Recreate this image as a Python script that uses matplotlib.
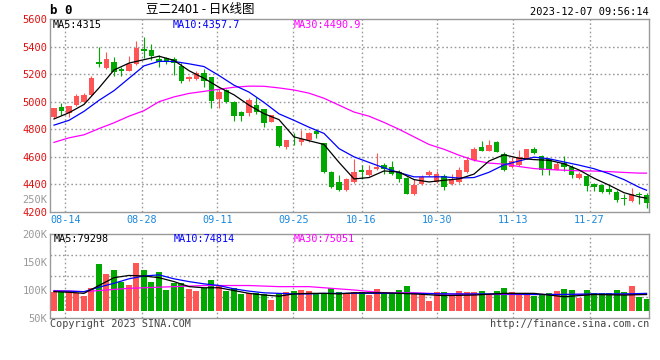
import matplotlib
matplotlib.use("Agg")
import matplotlib.pyplot as plt
import numpy as np

# daily candles (trading-day index 0..79)
opens = [4891, 4959, 4920, 4976, 5000, 5049, 5289, 5247, 5289, 5235,
         5226, 5272, 5383, 5376, 5311, 5315, 5308, 5260, 5163, 5168,
         5211, 5177, 5020, 5085, 5000, 4928, 4915, 4976, 4945, 4855,
         4823, 4673, 4731, 4709, 4721, 4789, 4697, 4491, 4418, 4358,
         4418, 4503, 4467, 4510, 4540, 4523, 4491, 4450, 4329, 4401,
         4467, 4418, 4460, 4401, 4418, 4491, 4576, 4668, 4644, 4709,
         4624, 4523, 4540, 4588, 4656, 4605, 4581, 4508, 4557, 4523,
         4447, 4460, 4406, 4394, 4365, 4346, 4302, 4280, 4329, 4322]
highs = [4958, 4993, 4972, 5056, 5066, 5187, 5400, 5364, 5327, 5250,
         5332, 5444, 5473, 5420, 5340, 5325, 5327, 5284, 5190, 5220,
         5235, 5180, 5090, 5090, 5005, 4935, 5024, 5037, 4950, 4905,
         4825, 4725, 4770, 4794, 4782, 4799, 4700, 4495, 4467, 4450,
         4581, 4540, 4540, 4629, 4552, 4571, 4503, 4452, 4443, 4467,
         4503, 4498, 4474, 4474, 4527, 4600, 4668, 4716, 4721, 4712,
         4637, 4600, 4649, 4660, 4668, 4612, 4588, 4564, 4605, 4540,
         4491, 4467, 4411, 4401, 4394, 4358, 4334, 4377, 4346, 4338]
lows = [4885, 4903, 4886, 4970, 4995, 5045, 5255, 5240, 5187, 5187,
        5220, 5265, 5315, 5303, 5255, 5270, 5194, 5138, 5150, 5160,
        5104, 4952, 4952, 4988, 4862, 4862, 4898, 4911, 4814, 4850,
        4670, 4654, 4685, 4685, 4710, 4734, 4480, 4375, 4350, 4355,
        4411, 4438, 4460, 4503, 4479, 4467, 4418, 4330, 4322, 4395,
        4462, 4412, 4363, 4395, 4412, 4485, 4570, 4640, 4640, 4632,
        4498, 4518, 4535, 4583, 4620, 4472, 4472, 4503, 4498, 4447,
        4442, 4353, 4353, 4338, 4329, 4273, 4249, 4275, 4261, 4232]
closes = [4952, 4935, 4969, 5042, 5049, 5170, 5277, 5311, 5218, 5225,
          5272, 5393, 5371, 5328, 5291, 5286, 5279, 5153, 5182, 5211,
          5153, 5008, 5073, 5000, 4898, 4898, 5012, 4927, 4843, 4903,
          4678, 4721, 4726, 4726, 4775, 4765, 4491, 4382, 4358, 4443,
          4491, 4491, 4503, 4527, 4515, 4479, 4443, 4334, 4394, 4455,
          4491, 4479, 4382, 4443, 4508, 4576, 4654, 4644, 4685, 4637,
          4508, 4571, 4600, 4654, 4629, 4508, 4508, 4547, 4523, 4467,
          4474, 4387, 4382, 4346, 4346, 4285, 4295, 4334, 4322, 4266]
# volume in thousands
volume = [97, 97, 99, 95, 90, 104, 146, 129, 135, 115,
          109, 149, 135, 115, 132, 100, 113, 112, 102, 99,
          103, 117, 109, 99, 104, 93, 95, 94, 93, 82,
          95, 97, 99, 100, 98, 92, 92, 104, 97, 93,
          96, 96, 91, 102, 95, 95, 100, 107, 94, 91,
          80, 96, 96, 91, 98, 96, 96, 98, 91, 98,
          104, 96, 91, 91, 89, 91, 95, 98, 102, 100,
          86, 100, 95, 95, 95, 100, 96, 107, 88, 84]

# moving averages, sampled along the chart
ma_idx = [0, 2, 4, 6, 8, 10, 12, 14, 16, 18, 20, 22, 24, 26, 28, 30, 32, 34, 36, 38,
          40, 42, 44, 46, 48, 50, 52, 54, 56, 58, 60, 62, 64, 66, 68, 70, 72, 74, 76, 78, 79]
ma5 = [4875, 4920, 4980, 5100, 5230, 5280, 5305, 5330, 5300, 5225, 5170, 5105, 5050, 4975,
       4913, 4870, 4745, 4717, 4690, 4560, 4440, 4450, 4498, 4490, 4435, 4418, 4430, 4440,
       4475, 4570, 4615, 4590, 4580, 4575, 4550, 4505, 4445, 4395, 4340, 4310, 4300]
ma10 = [4830, 4865, 4930, 5010, 5080, 5170, 5260, 5293, 5292, 5275, 5255, 5190, 5120, 5070,
        4995, 4912, 4865, 4815, 4770, 4660, 4600, 4560, 4520, 4486, 4455, 4455, 4455, 4446,
        4450, 4488, 4542, 4570, 4598, 4586, 4563, 4540, 4514, 4478, 4435, 4380, 4358]
ma30 = [4705, 4738, 4760, 4805, 4847, 4895, 4935, 5000, 5035, 5060, 5075, 5090, 5105, 5113,
        5112, 5100, 5085, 5062, 5025, 4975, 4925, 4895, 4850, 4800, 4745, 4690, 4655, 4612,
        4575, 4555, 4547, 4530, 4515, 4508, 4503, 4499, 4497, 4493, 4487, 4482, 4482]

vma_idx = [0, 2, 4, 6, 8, 10, 12, 14, 16, 18, 20, 22, 24, 26, 28, 30, 32, 34, 36, 38,
           40, 44, 48, 52, 56, 60, 64, 68, 72, 76, 79]
vma5 = [97, 96, 94, 108, 122, 126, 125, 122, 115, 106, 104, 104, 99, 94, 91, 89, 93, 94, 94, 93,
        95, 95, 93, 90, 91, 94, 94, 88, 92, 91, 92]
vma10 = [98, 98, 97, 105, 112, 120, 125, 127, 120, 115, 111, 108, 102, 98, 95, 94, 93, 93, 94, 94,
         94, 94, 94, 93, 93, 93, 92, 92, 93, 93, 94]
vma30 = [99, 98, 97, 99, 101, 103, 104, 105, 106, 107, 108, 108, 108, 108, 107, 106, 106, 106, 104, 102,
         100, 95, 95, 93, 92, 92, 92, 92, 92, 92, 92]

date_labels = ["08-14", "08-28", "09-11", "09-25", "10-16", "10-30", "11-13", "11-27"]
date_pos = [1.5, 11.7, 21.8, 31.9, 41.0, 51.1, 61.2, 71.4]
price_ticks = [4200, 4400, 4600, 4800, 5000, 5200, 5400, 5600]
vol_ticks = [50, 100, 150, 200]

RED = "#ff5555"
GREEN = "#00a800"
GRID = "#9a9a9a"
EDGE = "#999999"
MONO = "DejaVu Sans Mono"
CJK = ["Noto Sans CJK SC", "DejaVu Sans"]
DOTS = (0, (1.2, 1.8))

W, H = 660, 360


def fx(px):
    return px / W


def fy(py):
    return 1 - py / H


fig = plt.figure(figsize=(6.6, 3.6), dpi=100)
ax = fig.add_axes([fx(50), fy(212), 599 / W, 193 / H])
axv = fig.add_axes([fx(50), fy(318), 599 / W, 84 / H])

o = np.array(opens)
c = np.array(closes)
x = np.arange(len(c))
cols = np.where(c >= o, RED, GREEN)

# grid first so marks sit on top
for p in price_ticks[1:-1]:
    ax.axhline(p, color=GRID, lw=1, ls=DOTS, zorder=1)
for d in date_pos:
    ax.axvline(d, color=GRID, lw=1, ls=DOTS, zorder=1)

# candles
ax.vlines(x, lows, highs, colors=cols, lw=0.8, zorder=3)
ax.bar(x, np.maximum(np.abs(c - o), 6), bottom=np.minimum(o, c), width=0.78,
       color=cols, lw=0, zorder=3)
ax.plot(ma_idx, ma30, color="#ff00ff", lw=0.9, zorder=4)
ax.plot(ma_idx, ma10, color="#0000ff", lw=0.9, zorder=4)
ax.plot(ma_idx, ma5, color="black", lw=0.9, zorder=4)

ax.set_xlim(-0.53, 79.33)
ax.set_ylim(4200, 5600)
ax.set_yticks(price_ticks)
ax.set_yticklabels([str(p) for p in price_ticks], color="#e01010",
                   fontfamily=MONO, fontsize=7.5)
ax.set_xticks(date_pos)
ax.set_xticklabels(date_labels, color="#1a88dd", fontfamily=MONO, fontsize=7.3)
ax.tick_params(length=0, pad=2)

# volume
for q in (87.5, 125, 162.5):
    axv.axhline(q, color=GRID, lw=1, ls=DOTS, zorder=1)
for d in date_pos:
    axv.axvline(d, color=GRID, lw=1, ls=DOTS, zorder=1)
vbase = 62.5
axv.bar(x, np.array(volume) - vbase, bottom=vbase, width=0.8, color=cols, lw=0, zorder=3)
axv.plot(vma_idx, vma30, color="#ff00ff", lw=0.9, zorder=4)
axv.plot(vma_idx, vma10, color="#0000ff", lw=0.9, zorder=4)
axv.plot(vma_idx, vma5, color="black", lw=0.9, zorder=4)
axv.set_xlim(-0.53, 79.33)
axv.set_ylim(50, 200)
axv.set_xticks([])
axv.set_yticks(vol_ticks)
axv.set_yticklabels([f"{v}K" for v in vol_ticks], color=EDGE,
                    fontfamily=MONO, fontsize=7.5)
axv.tick_params(length=0, pad=2)

for a in (ax, axv):
    for s in a.spines.values():
        s.set_color(EDGE)
        s.set_linewidth(1)

# headers and labels
fig.text(fx(50), fy(11), "b 0", fontsize=9, fontweight="bold", fontfamily=MONO, va="center")
fig.text(fx(200), fy(10), "豆二2401 - 日K线图", fontsize=9, family=CJK, ha="center", va="center")
fig.text(fx(649), fy(12), "2023-12-07 09:56:14", fontsize=7.5, fontfamily=MONO,
         ha="right", va="center")
fig.text(fx(53), fy(25), "MA5:4315", fontsize=7.3, fontfamily=MONO, color="black", va="center")
fig.text(fx(173), fy(25), "MA10:4357.7", fontsize=7.3, fontfamily=MONO, color="#0000ff", va="center")
fig.text(fx(294), fy(25), "MA30:4490.9", fontsize=7.3, fontfamily=MONO, color="#ff00ff", va="center")
fig.text(fx(47), fy(200), "250K", fontsize=7.5, fontfamily=MONO, color=EDGE, ha="right", va="center")
fig.text(fx(54), fy(239), "MA5:79298", fontsize=7.3, fontfamily=MONO, color="black", va="center")
fig.text(fx(174), fy(239), "MA10:74814", fontsize=7.3, fontfamily=MONO, color="#0000ff", va="center")
fig.text(fx(294), fy(239), "MA30:75051", fontsize=7.3, fontfamily=MONO, color="#ff00ff", va="center")
fig.text(fx(50), fy(324), "Copyright 2023 SINA.COM", fontsize=7.3, fontfamily=MONO,
         color="#444444", va="center")
fig.text(fx(649), fy(324), "http://finance.sina.com.cn", fontsize=7.3, fontfamily=MONO,
         color="#444444", ha="right", va="center")

fig.savefig("out.png", dpi=100)
